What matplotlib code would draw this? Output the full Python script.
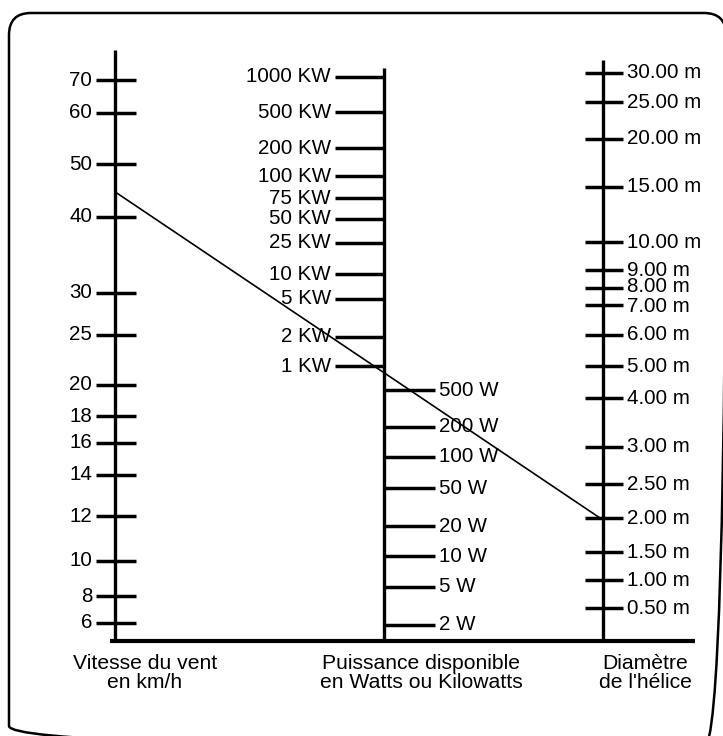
import matplotlib
matplotlib.use("Agg")
import matplotlib.pyplot as plt
import numpy as np
from matplotlib.patches import FancyBboxPatch

plt.rcParams['font.family'] = ['Liberation Sans', 'DejaVu Sans']

# ---- Data: nomogram scales (values and their graduation heights) ----
wind_values = [6, 8, 10, 12, 14, 16, 18, 20, 25, 30, 40, 50, 60, 70]
wind_labels = ["6", "8", "10", "12", "14", "16", "18", "20", "25", "30", "40", "50", "60", "70"]
wind_grad = [623, 596, 561, 516, 475, 443, 416, 385, 335, 293, 217, 164, 113, 80]

power_kw_values = [1, 2, 5, 10, 25, 50, 75, 100, 200, 500, 1000]
power_kw_labels = ["1 KW", "2 KW", "5 KW", "10 KW", "25 KW", "50 KW", "75 KW",
                   "100 KW", "200 KW", "500 KW", "1000 KW"]
power_kw_grad = [366, 337, 299, 274, 243, 219, 198, 176, 148, 112, 77]

power_w_values = [2, 5, 10, 20, 50, 100, 200, 500]
power_w_labels = ["2 W", "5 W", "10 W", "20 W", "50 W", "100 W", "200 W", "500 W"]
power_w_grad = [625, 587, 556, 526, 488, 457, 427, 390]

diam_values = [0.5, 1.0, 1.5, 2.0, 2.5, 3.0, 4.0, 5.0, 6.0, 7.0, 8.0, 9.0, 10.0, 15.0, 20.0, 25.0, 30.0]
diam_labels = ["0.50 m", "1.00 m", "1.50 m", "2.00 m", "2.50 m", "3.00 m", "4.00 m", "5.00 m",
               "6.00 m", "7.00 m", "8.00 m", "9.00 m", "10.00 m", "15.00 m", "20.00 m",
               "25.00 m", "30.00 m"]
diam_grad = [608, 580, 552, 518, 484, 447, 398, 366, 335, 305, 288, 270, 242, 187, 139, 102, 73]

# example reading drawn on the nomogram
example_wind = 44.5
example_diam = 2.0

titles = ["Vitesse du vent\nen km/h", "Puissance disponible\nen Watts ou Kilowatts", "Diamètre\nde l'hélice"]

# ---- Figure ----
W, H = 723, 736
fig = plt.figure(figsize=(W / 100, H / 100), dpi=100)
ax = fig.add_axes([0, 0, 1, 1])
ax.set_xlim(0, W)
ax.set_ylim(H, 0)
ax.axis("off")

# frame
frame = FancyBboxPatch((9, 13), 717, 735, boxstyle="round,pad=0,rounding_size=22",
                       fill=False, lw=1.8, ec="black")
ax.add_patch(frame)

base_y = 641
x_wind, x_pow, x_diam = 115, 384, 603
fs = 14.8
lw_axis = 2.4
lw_tick = 2.5

# baseline
ax.plot([110, 695], [base_y, base_y], color="black", lw=3, solid_capstyle="butt")

# wind axis
ax.plot([x_wind, x_wind], [50, base_y], color="black", lw=lw_axis, solid_capstyle="butt")
for v, lab, g in zip(wind_values, wind_labels, wind_grad):
    ax.plot([x_wind - 19, x_wind + 21], [g, g], color="black", lw=lw_tick, solid_capstyle="butt")
    ax.text(x_wind - 23, g, lab, ha="right", va="center", fontsize=fs)

# power axis
ax.plot([x_pow, x_pow], [68, base_y], color="black", lw=lw_axis, solid_capstyle="butt")
for v, lab, g in zip(power_kw_values, power_kw_labels, power_kw_grad):
    ax.plot([x_pow - 49, x_pow], [g, g], color="black", lw=lw_tick, solid_capstyle="butt")
    ax.text(x_pow - 53, g, lab, ha="right", va="center", fontsize=fs)
for v, lab, g in zip(power_w_values, power_w_labels, power_w_grad):
    ax.plot([x_pow, x_pow + 51], [g, g], color="black", lw=lw_tick, solid_capstyle="butt")
    ax.text(x_pow + 55, g, lab, ha="left", va="center", fontsize=fs)

# diameter axis
ax.plot([x_diam, x_diam], [60, base_y], color="black", lw=lw_axis, solid_capstyle="butt")
for v, lab, g in zip(diam_values, diam_labels, diam_grad):
    ax.plot([x_diam - 18, x_diam + 20], [g, g], color="black", lw=lw_tick, solid_capstyle="butt")
    nudge = -1.5 if v == 8.0 else (1.5 if v == 7.0 else 0)
    ax.text(x_diam + 24, g + nudge, lab, ha="left", va="center", fontsize=fs)

# example line through the scales
y_start = np.interp(example_wind, wind_values, wind_grad)
y_end = np.interp(example_diam, diam_values, diam_grad)
ax.plot([x_wind + 2, x_diam - 3], [y_start, y_end], color="black", lw=1.2)

# titles
for xc, t in zip([145, 421, 645], titles):
    ax.text(xc, 654, t, ha="center", va="top", fontsize=15.2, linespacing=1.0)

fig.savefig("out.png", dpi=100)
